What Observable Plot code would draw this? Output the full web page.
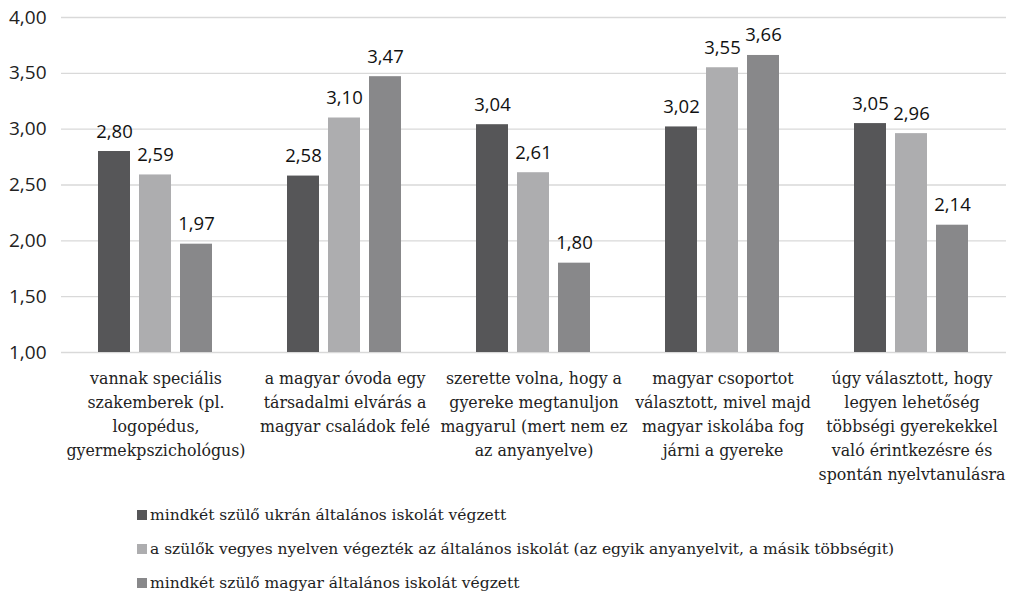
<!DOCTYPE html>
<html>
<head>
<meta charset="utf-8">
<script src="https://cdn.jsdelivr.net/npm/d3@7"></script>
<script src="https://cdn.jsdelivr.net/npm/@observablehq/plot@0.6"></script>
<style>
  html, body { margin: 0; padding: 0; background: #fff; }
  #chart svg { display: block; }
  .serif { font-family: "DejaVu Serif", "Liberation Serif", serif; }
  .legend { font-size: 15.5px; color: #222; padding-left: 137px; margin-top: -2px; }
  .legend .row { height: 34px; line-height: 34px; display: flex; align-items: center; }
  .legend .sw { width: 10px; height: 10px; margin-right: 3px; display: inline-block; }
</style>
</head>
<body>
<div id="chart"></div>
<script>
const categories = [
  "vannak speciális\nszakemberek (pl.\nlogopédus,\ngyermekpszichológus)",
  "a magyar óvoda egy\ntársadalmi elvárás a\nmagyar családok felé",
  "szerette volna, hogy a\ngyereke megtanuljon\nmagyarul (mert nem ez\naz anyanyelve)",
  "magyar csoportot\nválasztott, mivel majd\nmagyar iskolába fog\njárni a gyereke",
  "úgy választott, hogy\nlegyen lehetőség\ntöbbségi gyerekekkel\nvaló érintkezésre és\nspontán nyelvtanulásra"
];
const series = [
  "mindkét szülő ukrán általános iskolát végzett",
  "a szülők vegyes nyelven végezték az általános iskolát (az egyik anyanyelvit, a másik többségit)",
  "mindkét szülő magyar általános iskolát végzett"
];
const valuesUkrainian = [2.80, 2.58, 3.04, 3.02, 3.05];
const valuesMixed     = [2.59, 3.10, 2.61, 3.55, 2.96];
const valuesHungarian = [1.97, 3.47, 1.80, 3.66, 2.14];
const seriesColors = ["#565658", "#adadaf", "#88888a"];
const yTicks = [1, 1.5, 2, 2.5, 3, 3.5, 4];

const seriesValues = [valuesUkrainian, valuesMixed, valuesHungarian];
const data = [];
categories.forEach((c, i) => {
  series.forEach((s, j) => data.push({category: c, series: s, value: seriesValues[j][i]}));
});
const fmt = d => d.toFixed(2).replace(".", ",");

const chart = Plot.plot({
  width: 1024,
  height: 500,
  marginLeft: 60,
  marginRight: 18,
  marginTop: 17,
  marginBottom: 148,
  style: {background: "#fff"},
  fx: {domain: categories, padding: 0, axis: null},
  x: {domain: series, paddingInner: 0.214, paddingOuter: 0.86, axis: null},
  y: {domain: [1, 4], axis: null},
  color: {domain: series, range: seriesColors},
  marks: [
    Plot.gridY(yTicks, {stroke: "#d9d9d9", strokeOpacity: 1, strokeWidth: 1.3}),
    Plot.axisY(yTicks, {tickSize: 0, tickPadding: 15, tickFormat: fmt, fontSize: 19, fontFamily: "Open Sans", fill: "#222", label: null}),
    Plot.barY(data, {fx: "category", x: "series", y1: 1, y2: "value", fill: "series"}),
    Plot.text(data, {fx: "category", x: "series", y: "value", text: d => fmt(d.value), lineAnchor: "bottom", dy: -14, fontSize: 18.5, fontFamily: "Open Sans", fill: "#111"}),
    Plot.axisFx({anchor: "bottom", tickSize: 0, tickPadding: 14, fontSize: 15.8, lineHeight: 1.52, fontFamily: "DejaVu Serif", fill: "#222", label: null})
  ]
});
document.getElementById("chart").appendChild(chart);

const legend = document.createElement("div");
legend.className = "legend serif";
series.forEach((s, j) => {
  const row = document.createElement("div");
  row.className = "row";
  const sw = document.createElement("span");
  sw.className = "sw";
  sw.style.background = seriesColors[j];
  const t = document.createElement("span");
  t.textContent = s;
  row.appendChild(sw);
  row.appendChild(t);
  legend.appendChild(row);
});
document.getElementById("chart").appendChild(legend);
</script>
</body>
</html>
